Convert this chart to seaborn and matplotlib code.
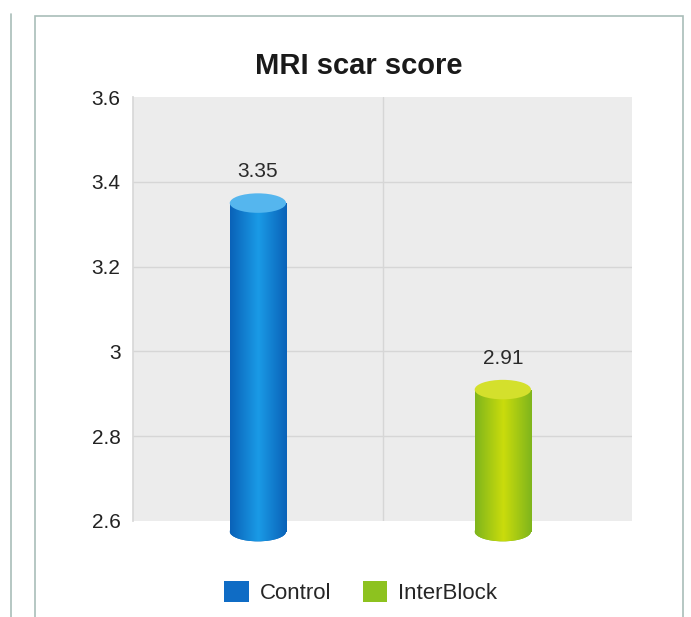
import numpy as np
import pandas as pd
import matplotlib
matplotlib.use("Agg")
import matplotlib.pyplot as plt
import seaborn as sns
from matplotlib.patches import Ellipse, Rectangle, Patch
from matplotlib.colors import LinearSegmentedColormap
from matplotlib.lines import Line2D

# data
groups = ["Control", "InterBlock"]
scores = [3.35, 2.91]
value_labels = ["3.35", "2.91"]
yticks = [2.6, 2.8, 3.0, 3.2, 3.4, 3.6]
ytick_labels = ["2.6", "2.8", "3", "3.2", "3.4", "3.6"]

legend_colors = {"Control": "#0f6cc5", "InterBlock": "#8dc21f"}
side_colors = {"Control": ["#0a62b8", "#1a9ae6", "#0a62b8"],
               "InterBlock": ["#7fb51c", "#cadc0c", "#7fb51c"]}
top_colors = {"Control": "#55b6ee", "InterBlock": "#d4e02c"}

sns.set_theme(style="white")
plt.rcParams["font.family"] = ["Liberation Sans", "DejaVu Sans"]

fig = plt.figure(figsize=(6.91, 6.17), dpi=100)
ax = fig.add_axes([0.1925, 0.1556, 0.722, 0.687])

df = pd.DataFrame({"group": groups, "score": scores})
sns.barplot(data=df, x="group", y="score", hue="group", palette=legend_colors,
            width=0.23, legend=False, ax=ax)

base = 2.575
ell_h = 0.046
for patch, g, v, lab in zip(ax.patches, groups, scores, value_labels):
    x0 = patch.get_x()
    w = patch.get_width()
    patch.set_y(base)
    patch.set_height(v - base)
    patch.set_clip_on(False)
    patch.set_edgecolor("none")
    patch.set_zorder(3)
    cmap = LinearSegmentedColormap.from_list(g, side_colors[g])
    grad = np.linspace(0, 1, 200).reshape(1, -1)
    # bottom ellipse
    bot = Ellipse((x0 + w / 2, base), w, ell_h, facecolor=side_colors[g][0],
                  edgecolor="none", zorder=3, clip_on=False)
    ax.add_patch(bot)
    for clipper in (patch, bot):
        im = ax.imshow(grad, cmap=cmap, aspect="auto", zorder=4,
                       extent=[x0, x0 + w, base - ell_h, v], interpolation="bilinear")
        im.set_clip_box(fig.bbox)
        im.set_clip_path(clipper)
    top = Ellipse((x0 + w / 2, v), w, ell_h, facecolor=top_colors[g],
                  edgecolor="none", zorder=5, clip_on=False)
    ax.add_patch(top)
    ax.text(x0 + w / 2, v + 0.052, lab, ha="center", va="bottom",
            fontsize=15, color="#2a2a2a", zorder=6)

ax.set_xlim(-0.51, 1.527)
ax.set_ylim(2.6, 3.6)
ax.set_facecolor("#ececec")
ax.set_yticks(yticks)
ax.set_yticklabels(ytick_labels, fontsize=15, color="#222222")
ax.set_xticks([])
ax.set_xlabel("")
ax.set_ylabel("")
for y in yticks[1:-1]:
    ax.axhline(y, color="#d6d6d6", lw=1, zorder=1)
ax.axvline(0.51, color="#d6d6d6", lw=1, zorder=1)
for s in ax.spines.values():
    s.set_visible(False)
ax.spines["left"].set_visible(True)
ax.spines["left"].set_color("#d8d8d8")
ax.tick_params(axis="y", length=0, pad=9)

fig.text(359 / 691, 1 - 66 / 617, "MRI scar score", ha="center", va="center",
         fontsize=21, fontweight="bold", color="#1a1a1a")

handles = [Patch(facecolor=legend_colors[g], edgecolor="none") for g in groups]
fig.legend(handles, groups, loc="center", bbox_to_anchor=(0.522, 0.04), ncol=2,
           frameon=False, fontsize=16, handlelength=1.1, handleheight=1.1,
           columnspacing=1.4, handletextpad=0.5)

# panel frames
fig.add_artist(Line2D([11 / 691, 11 / 691], [0, 1 - 14 / 617], color="#a9bdb9", lw=1.2))
fig.add_artist(Rectangle((35 / 691, -0.05), (683 - 35) / 691, 1.05 - 16 / 617,
                         fill=False, edgecolor="#a9bdb9", lw=1.2))

fig.savefig("out.png", dpi=100)
